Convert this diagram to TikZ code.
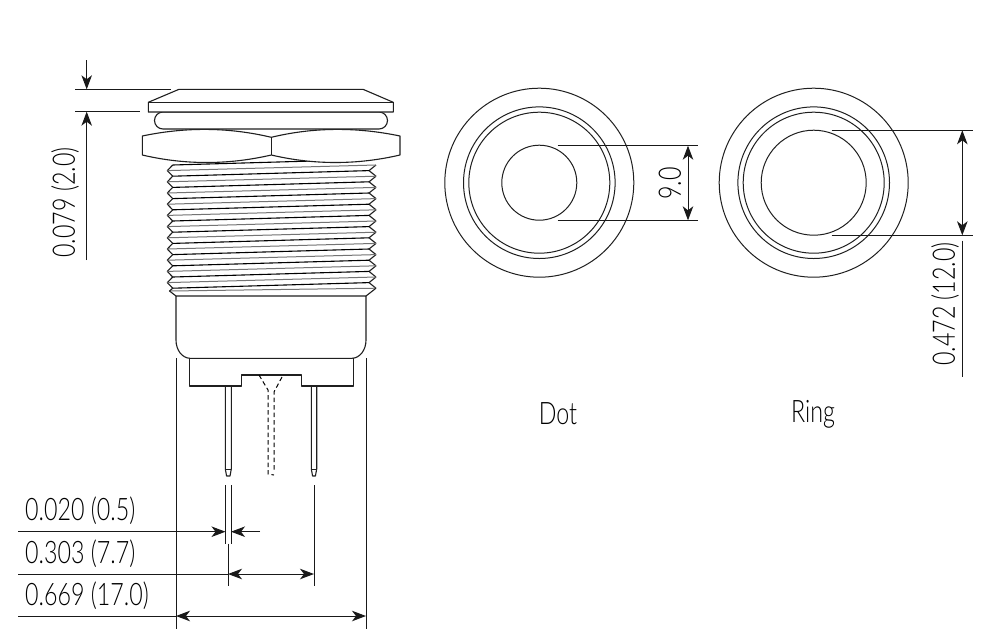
\documentclass[tikz,border=0pt]{standalone}
\usepackage{fontspec}
\setmainfont[FakeStretch=0.75]{Lato Light}
\usetikzlibrary{arrows.meta}
\tikzset{
  x=1pt,y=-1pt,
  part/.style={line width=1.1pt,line join=round,draw=black!88},
  dimline/.style={line width=1pt,draw=black!90},
  dimarrow/.style={dimline,{Stealth[length=14pt,width=10.5pt,inset=4pt]}-{Stealth[length=14pt,width=10.5pt,inset=4pt]}},
  endarrow/.style={dimline,-{Stealth[length=14pt,width=10.5pt,inset=4pt]}},
  lbl/.style={inner sep=0pt,font=\fontsize{31}{31}\selectfont,text=black},
  hidden/.style={line width=1pt,dash pattern=on 4.5pt off 3pt,draw=black}
}
\begin{document}
\begin{tikzpicture}
\useasboundingbox[fill=white] (0,0) rectangle (987,641);
% threads
\foreach \k in {0,...,10}{
  \pgfmathsetmacro{\yi}{165+\k*11.2}
  \pgfmathsetmacro{\yo}{\yi+5.6}
  \pgfmathsetmacro{\yn}{\yi+11.2}
  \draw[part] (172.7,\yi) -- (167.3,\yo) -- (172.7,\yn);
  \draw[part] (376,\yi) -- (369,\yo) -- (376,\yn);
  \draw[part,line width=1pt,draw=black!55] (167.3,\yo) -- (376,\yi);
  \draw[part,line width=1.1pt,draw=black] (172.7,\yi) -- (369,\yo-11.2);
}
\draw[part,line width=1.1pt,draw=black] (172.7,288.2) -- (369,282.6);
\draw[part,line width=1pt,draw=black!55] (169.5,291) -- (376,288.2);
\draw[part] (172.7,288.2) -- (169.5,291) -- (176,296);
\draw[part] (376,288.2) -- (366,296);
% body
\draw[part] (176,296) -- (176,340) .. controls (176,350) and (182,358) .. (190,358.3)
  -- (352,358.3) .. controls (360,358) and (366,350) .. (366,340) -- (366,296) -- cycle;
% connector block
\draw[part] (189.3,358.3) -- (189.3,386) -- (241.3,386) -- (241.3,375) -- (301.3,375)
  -- (301.3,386) -- (353.3,386) -- (353.3,358.3);
% pins
\draw[part] (225.3,386) -- (225.3,469) -- (226.6,476) -- (230,476) -- (231.3,469) -- (231.3,386);
\draw[part,line width=0.7pt] (225.3,469) -- (231.3,469);
\draw[part] (311.3,386) -- (311.3,469) -- (312.6,476) -- (315.4,476) -- (316.7,469) -- (316.7,386);
\draw[part,line width=0.7pt] (311.3,469) -- (316.7,469);
% hidden wires
\draw[hidden] (259,375) -- (268,390) -- (268,474) -- (274,475);
\draw[hidden] (282,377) -- (274,392) -- (274,472);
% nut
\draw[part,fill=white] (142.3,136) .. controls (185,127) and (228,127) .. (271.3,137.3)
  .. controls (314,127) and (357,127) .. (400,136) -- (400,155)
  .. controls (357,165) and (314,165) .. (271.3,155)
  .. controls (228,165) and (185,165) .. (142.3,155) -- cycle;
\draw[part] (271.3,137.3) -- (271.3,155);
% gasket
\draw[part,fill=white] (163,112) -- (379,112) arc[start angle=-90,end angle=90,radius=8.5] -- (163,129) arc[start angle=90,end angle=270,radius=8.5] -- cycle;
% flange
\draw[part,fill=white] (179,89.3) -- (363,89.3) -- (393.3,102.3) -- (393.3,112) -- (148.3,112) -- (148.3,102.3) -- cycle;
\draw[part] (148.3,102.3) -- (393.3,102.3);
% top dimension
\draw[dimline] (75,89.3) -- (170.7,89.3);
\draw[dimline] (75,111.7) -- (140,111.7);
\coordinate (ta) at (86.7,60);
\coordinate (tb) at (86.7,89.3);
\coordinate (tc) at (86.7,260);
\coordinate (td) at (86.7,111.7);
\draw[endarrow] (ta) -- (tb);
\draw[endarrow] (tc) -- (td);
\node[lbl,rotate=90] (lbla) at (65,202.5) {0.079 (2.0)};
% bottom dimensions
\draw[dimline] (176,358.3) -- (176,629);
\draw[dimline] (366,358.3) -- (366,629);
\draw[dimline] (225.5,485) -- (225.5,543.5);
\draw[dimline] (231,485) -- (231,543.5);
\draw[dimline] (228,543.5) -- (228,586);
\draw[dimline] (314,485) -- (314,586);
\coordinate (da) at (18,531.7);
\coordinate (db) at (225.5,531.7);
\coordinate (dc) at (260,531.7);
\coordinate (dd) at (231,531.7);
\draw[endarrow] (da) -- (db);
\draw[endarrow] (dc) -- (dd);
\draw[dimline] (18,574) -- (228,574);
\draw[dimarrow] (228,574) -- (314,574);
\draw[dimline] (18,616) -- (176,616);
\draw[dimarrow] (176,616) -- (366,616);
\node[lbl,anchor=west] (lblb) at (25,510.5) {0.020 (0.5)};
\node[lbl,anchor=west] (lblc) at (25,554) {0.303 (7.7)};
\node[lbl,anchor=west] (lbld) at (25,596) {0.669 (17.0)};
% dot view
\draw[part,line width=1pt] (539.3,182.7) circle[radius=94.5];
\draw[part,line width=1pt] (539.3,182.7) circle[radius=75.8];
\draw[part,line width=1pt] (539.3,182.7) circle[radius=70.5];
\draw[part,line width=1pt] (539.3,182.7) circle[radius=37.5];
\draw[dimline] (557.7,145.7) -- (698,145.7);
\draw[dimline] (557.7,220.3) -- (698,220.3);
\draw[dimarrow] (688,145.7) -- (688,220.3);
\node[lbl,rotate=90] (lble) at (670,183.5) {9.0};
\node[lbl] (lblf) at (558,414) {Dot};
% ring view
\draw[part,line width=1pt] (813.7,182.7) circle[radius=94.5];
\draw[part,line width=1pt] (813.7,182.7) circle[radius=75.8];
\draw[part,line width=1pt] (813.7,182.7) circle[radius=70.5];
\draw[part,line width=1pt] (813.7,182.7) circle[radius=52.5];
\draw[dimline] (831.7,130.3) -- (973,130.3);
\draw[dimline] (831.7,235.3) -- (973,235.3);
\draw[dimarrow] (962.3,130.3) -- (962.3,235.3);
\draw[dimline] (962.3,240.7) -- (962.3,377);
\node[lbl,rotate=90] (lblg) at (945,304) {0.472 (12.0)};
\node[lbl] (lblh) at (813,414) {Ring};
\end{tikzpicture}
\end{document}
